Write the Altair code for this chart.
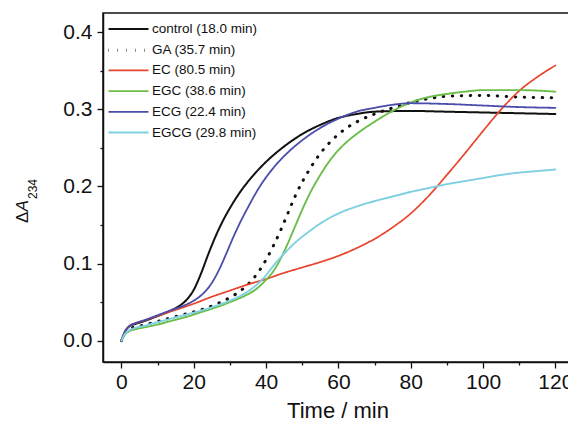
import altair as alt
import pandas as pd

# ---- data ----
series_names = ["control (18.0 min)", "GA (35.7 min)", "EC (80.5 min)",
                "EGC (38.6 min)", "ECG (22.4 min)", "EGCG (29.8 min)"]
series_colors = ["#111111", "#111111", "#e8452c", "#6dbd4a", "#4b4dab", "#7fd0e0"]

control_t = [0, 1, 2, 4, 6, 10, 14, 16, 18, 20, 22, 24, 26, 28, 30, 33, 36, 40, 45, 50, 55, 60, 65, 70, 80, 90, 100, 110, 120]
control_v = [0, 0.012, 0.018, 0.022, 0.025, 0.032, 0.04, 0.045, 0.053, 0.066, 0.087, 0.112, 0.135, 0.155, 0.172, 0.194, 0.212, 0.232, 0.252, 0.268, 0.28, 0.289, 0.294, 0.297, 0.298, 0.297, 0.296, 0.295, 0.294]

ga_t = [0, 1, 2, 4, 6, 10, 14, 18, 22, 26, 30, 33, 36, 38, 40, 42, 44, 46, 48, 50, 52, 55, 58, 62, 66, 70, 75, 80, 85, 90, 100, 110, 120]
ga_v = [0, 0.01, 0.015, 0.018, 0.02, 0.025, 0.03, 0.035, 0.04, 0.047, 0.056, 0.065, 0.078, 0.09, 0.105, 0.123, 0.143, 0.165, 0.187, 0.206, 0.222, 0.243, 0.259, 0.275, 0.286, 0.294, 0.302, 0.309, 0.314, 0.317, 0.318, 0.316, 0.315]

ec_t = [0, 1, 2, 4, 6, 10, 15, 20, 25, 30, 35, 40, 45, 50, 55, 60, 65, 70, 75, 80, 85, 90, 95, 100, 105, 110, 115, 120]
ec_v = [0, 0.012, 0.018, 0.023, 0.026, 0.032, 0.04, 0.048, 0.057, 0.065, 0.073, 0.08, 0.088, 0.095, 0.102, 0.11, 0.12, 0.132, 0.147, 0.165, 0.188, 0.215, 0.243, 0.272, 0.3, 0.324, 0.342, 0.357]

egc_t = [0, 1, 2, 4, 6, 10, 14, 18, 22, 26, 30, 34, 37, 40, 42, 44, 46, 48, 50, 52, 55, 58, 61, 65, 70, 75, 80, 85, 90, 95, 100, 105, 110, 120]
egc_v = [0, 0.008, 0.012, 0.015, 0.017, 0.021, 0.026, 0.031, 0.037, 0.043, 0.05, 0.058, 0.066, 0.079, 0.09, 0.106, 0.126, 0.148, 0.17, 0.19, 0.215, 0.236, 0.252, 0.268, 0.284, 0.298, 0.309, 0.316, 0.32, 0.323, 0.325, 0.325, 0.325, 0.323]

ecg_t = [0, 1, 2, 4, 6, 10, 14, 18, 21, 23, 25, 27, 29, 31, 33, 35, 38, 42, 46, 50, 55, 60, 65, 70, 75, 80, 90, 100, 110, 120]
ecg_v = [0, 0.012, 0.018, 0.023, 0.026, 0.033, 0.04, 0.047, 0.055, 0.063, 0.075, 0.092, 0.113, 0.135, 0.155, 0.173, 0.198, 0.224, 0.244, 0.26, 0.276, 0.288, 0.297, 0.302, 0.306, 0.308, 0.307, 0.305, 0.303, 0.302]

egcg_t = [0, 1, 2, 4, 6, 10, 14, 18, 22, 26, 30, 34, 37, 40, 42, 45, 48, 52, 56, 60, 65, 70, 75, 80, 85, 90, 95, 100, 105, 110, 115, 120]
egcg_v = [0, 0.009, 0.013, 0.017, 0.019, 0.024, 0.029, 0.034, 0.039, 0.045, 0.052, 0.061, 0.071, 0.085, 0.097, 0.113, 0.127, 0.142, 0.155, 0.165, 0.174, 0.181, 0.187, 0.193, 0.198, 0.203, 0.207, 0.211, 0.215, 0.218, 0.22, 0.222]

x_major = [0, 20, 40, 60, 80, 100, 120]
x_minor = [10, 30, 50, 70, 90, 110]
y_major = [0.0, 0.1, 0.2, 0.3, 0.4]
y_minor = [0.05, 0.15, 0.25, 0.35]

# ---- build table ----
pairs = [(control_t, control_v), (ga_t, ga_v), (ec_t, ec_v),
         (egc_t, egc_v), (ecg_t, ecg_v), (egcg_t, egcg_v)]
rows = []
for name, (ts, vs) in zip(series_names, pairs):
    for t, v in zip(ts, vs):
        rows.append({"series": name, "t": t, "v": v})
df = pd.DataFrame(rows)

dashes = [[1, 0], [0.5, 8.5], [1, 0], [1, 0], [1, 0], [1, 0]]
widths = [2.0, 3.0, 1.7, 1.9, 1.8, 1.9]

FONT = "Liberation Sans"
xdom = [-5.1, 124.6]
ydom = [-0.0276, 0.425]

xscale = alt.Scale(domain=xdom, nice=False, zero=False)
yscale = alt.Scale(domain=ydom, nice=False, zero=False)

lines = alt.Chart(df).mark_line(interpolate="monotone", strokeCap="round").encode(
    x=alt.X("t:Q", scale=xscale,
            axis=alt.Axis(values=x_major, title="Time / min", grid=False,
                          tickSize=6, labelPadding=3, titlePadding=8,
                          labelFontSize=21, titleFontSize=22, titleFontWeight="normal",
                          labelFlush=False, labelOverlap=False)),
    y=alt.Y("v:Q", scale=yscale,
            axis=alt.Axis(values=y_major, format=".1f", title=None, grid=False,
                          tickSize=6, labelPadding=5, labelFontSize=21)),
    color=alt.Color("series:N", scale=alt.Scale(domain=series_names, range=series_colors),
                    title=None, sort=series_names),
    strokeDash=alt.StrokeDash("series:N", scale=alt.Scale(domain=series_names, range=dashes),
                              title=None, sort=series_names),
    strokeWidth=alt.StrokeWidth("series:N",
                                scale=alt.Scale(type="ordinal", domain=series_names, range=widths),
                                title=None, sort=series_names),
    order=alt.Order("t:Q"),
)

minor_df = pd.DataFrame({"t": x_minor[:4], "v": y_minor})
minor = alt.Chart(minor_df).mark_point(opacity=0).encode(
    x=alt.X("t:Q", scale=xscale,
            axis=alt.Axis(values=x_minor, labels=False, tickSize=3, domain=False,
                          title=None, grid=False, orient="bottom")),
    y=alt.Y("v:Q", scale=yscale,
            axis=alt.Axis(values=y_minor, labels=False, tickSize=3, domain=False,
                          title=None, grid=False, orient="left")),
)

# y title: ΔA with subscript 234
ytitle_d = alt.Chart(pd.DataFrame({"s": ["Δ"]})).mark_text(
    angle=270, align="left", baseline="alphabetic", fontSize=17, font=FONT, color="#111"
).encode(text="s:N", x=alt.value(-75), y=alt.value(210))
ytitle_a = alt.Chart(pd.DataFrame({"s": ["A"]})).mark_text(
    angle=270, align="left", baseline="alphabetic", fontSize=17, font=FONT,
    fontStyle="italic", color="#111"
).encode(text="s:N", x=alt.value(-75), y=alt.value(198.5))
ytitle_sub = alt.Chart(pd.DataFrame({"s": ["234"]})).mark_text(
    angle=270, align="left", baseline="alphabetic", fontSize=12, font=FONT, color="#111"
).encode(text="s:N", x=alt.value(-66), y=alt.value(186))

chart = alt.layer(lines, minor, ytitle_d, ytitle_a, ytitle_sub).resolve_axis(
    x="independent", y="independent"
).properties(
    width=469, height=349,
    autosize=alt.AutoSizeParams(type="none"),
    padding={"left": 95, "top": 5, "right": -4, "bottom": 62},
).configure_view(
    stroke="#111", strokeWidth=1.5
).configure_axis(
    domainColor="#111", domainWidth=1.5, tickColor="#111", tickWidth=1.3,
    labelColor="#111", titleColor="#111", labelFont=FONT, titleFont=FONT,
).configure_legend(
    orient="top-left", offset=5, padding=0, symbolType="M-1.1,0H2.9", symbolSize=400,
    labelFontSize=13.5, labelFont=FONT, labelColor="#111",
    labelOffset=21, labelLimit=300, rowPadding=2.7,
)

chart.save("out.html", embed_options={"renderer": "svg", "actions": False})
